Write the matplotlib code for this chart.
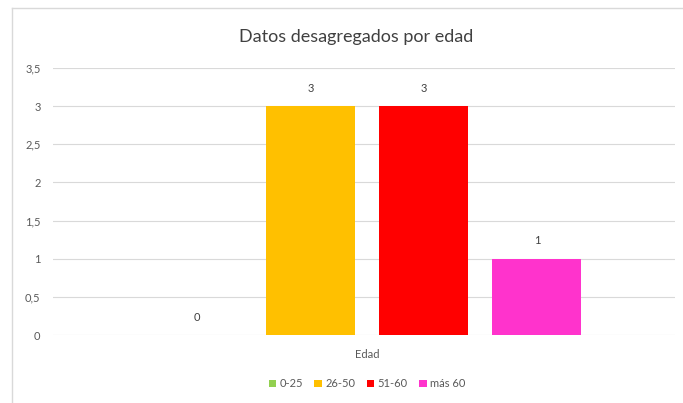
import matplotlib.pyplot as plt
from matplotlib.lines import Line2D

plt.rcParams['font.family'] = ['Lato', 'DejaVu Sans']

categorias = ['0-25', '26-50', '51-60', 'más 60']
valores = [0, 3, 3, 1]
colores = ['#92d050', '#ffc000', '#ff0000', '#ff33cc']
yticks = [0, 0.5, 1, 1.5, 2, 2.5, 3, 3.5]
ytick_labels = ['0', '0,5', '1', '1,5', '2', '2,5', '3', '3,5']

fig = plt.figure(figsize=(6.83, 4.03), dpi=100)
ax = fig.add_axes([53 / 683, 0.1687, 622 / 683, 0.6626])

paso = 0.182
ancho = 0.143
for i, (cat, v, c) in enumerate(zip(categorias, valores, colores)):
    x = (i - 1.5) * paso
    ax.bar(x, v, width=ancho, color=c, label=cat, zorder=3)
    ax.annotate(str(v), (x, v), xytext=(0, 9), textcoords='offset points',
                ha='center', va='bottom', fontsize=8, color='#404040')

ax.set_xlim(-0.505, 0.495)
ax.set_ylim(0, 3.5)
ax.set_yticks(yticks)
ax.set_yticklabels(ytick_labels)
ax.set_xticks([0])
ax.set_xticklabels(['Edad'])
ax.tick_params(axis='both', length=0, labelsize=8, labelcolor='#595959')
ax.tick_params(axis='x', pad=10)
ax.tick_params(axis='y', pad=9)
ax.grid(axis='y', color='#d9d9d9', linewidth=0.8, zorder=0)
for s in ax.spines.values():
    s.set_visible(False)

fig.text(0.522, 0.908, 'Datos desagregados por edad', ha='center', va='center',
         fontsize=13, color='#404040')

ax.legend(loc='upper center', bbox_to_anchor=(0.505, -0.125), ncol=4, frameon=False,
          fontsize=8, labelcolor='#595959', handlelength=0.7, handleheight=0.7,
          handletextpad=0.3, columnspacing=1.0)

# borde del grafico
fig.add_artist(Line2D([12 / 683, 12 / 683], [0, 1 - 8 / 403], color='#d9d9d9', lw=1))
fig.add_artist(Line2D([12 / 683, 1], [1 - 8 / 403, 1 - 8 / 403], color='#d9d9d9', lw=1))

fig.savefig('out.png', dpi=100)
